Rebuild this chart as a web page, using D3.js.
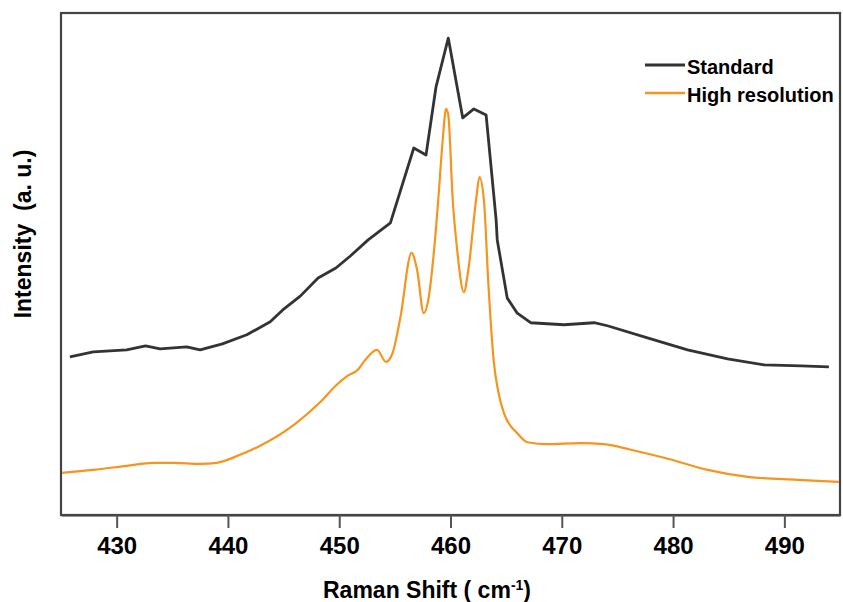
<!DOCTYPE html>
<html>
<head>
<meta charset="utf-8">
<script src="https://cdn.jsdelivr.net/npm/d3@7/dist/d3.min.js"></script>
<style>
  html, body { margin: 0; padding: 0; background: #fff; }
  svg { display: block; }
  text { font-family: "Liberation Sans", Arial, sans-serif; font-weight: bold; fill: #000; }
</style>
</head>
<body>
<svg id="chart" width="843" height="602"></svg>
<script>
// ---- data ----
const xTicks = [430, 440, 450, 460, 470, 480, 490];

const ramanStd = [425.8, 427.9, 430.9, 432.6, 433.9, 436.3, 437.5, 439.5, 441.7, 443.8,
  444.9, 446.5, 448.1, 449.7, 451.0, 452.6, 454.6, 456.7, 457.8, 458.7,
  459.8, 461.1, 462.1, 463.2, 464.1, 464.2, 465.1, 466.0, 467.2, 470.2,
  472.9, 474.1, 477.7, 481.3, 484.9, 488.2, 491.5, 494.0];
const intensityStd = [31.5, 32.5, 32.9, 33.7, 33.1, 33.5, 32.9, 34.1, 35.9, 38.5,
  40.8, 43.6, 47.2, 49.2, 51.6, 54.8, 58.2, 73.1, 71.7, 85.3,
  95.0, 79.1, 80.9, 79.7, 58.8, 54.8, 43.2, 40.2, 38.3, 37.9,
  38.3, 37.7, 35.3, 32.9, 31.1, 29.9, 29.7, 29.5];

const ramanHR = [425.1, 427.9, 430.9, 433.3, 435.1, 437.5, 439.0, 441.1, 442.9, 445.9,
  448.3, 449.8, 450.8, 451.7, 452.2, 453.4, 454.2, 454.8, 455.5, 456.5, 457.0,
  457.6, 458.0, 458.5, 458.9, 459.3, 459.6, 459.8, 460.2, 460.6, 461.2,
  461.6, 462.3, 462.6, 463.0, 463.4, 463.9, 464.3, 464.8, 466.0, 466.9,
  468.7, 471.7, 473.8, 476.2, 479.2, 483.1, 486.7, 491.2, 494.9];
const intensityHR = [8.4, 9.0, 9.8, 10.4, 10.4, 10.2, 10.4, 12.0, 13.8, 17.9,
  22.5, 26.0, 27.8, 29.0, 30.5, 32.9, 30.5, 32.3, 39.4, 52.2, 48.8,
  40.2, 42.8, 52.2, 62.8, 74.7, 80.9, 79.7, 62.8, 52.8, 44.4,
  48.8, 62.8, 67.3, 62.8, 46.2, 30.3, 24.5, 20.3, 16.3, 14.5,
  14.1, 14.3, 14.1, 13.0, 11.4, 9.0, 7.6, 7.0, 6.6];

const seriesNames = ["Standard", "High resolution"];
const seriesColors = ["#333333", "#f7941d"];

// ---- layout ----
const svg = d3.select("#chart");
const L = 61, R = 840, T = 13, B = 515;

const x = d3.scaleLinear().domain([425, 495]).range([L, R]);
const y = d3.scaleLinear().domain([0, 100]).range([B, T]);

svg.append("rect").attr("x", 0).attr("y", 0).attr("width", 843).attr("height", 602).attr("fill", "#fff");

// frame
svg.append("rect")
  .attr("x", L).attr("y", T).attr("width", R - L).attr("height", B - T)
  .attr("fill", "none").attr("stroke", "#444").attr("stroke-width", 2.2);

// x axis
const xAxis = svg.append("g")
  .attr("transform", `translate(0,${B})`)
  .call(d3.axisBottom(x).tickValues(xTicks).tickFormat(d3.format("d"))
    .tickSizeInner(13).tickSizeOuter(0).tickPadding(9));
xAxis.select(".domain").attr("stroke", "#444").attr("stroke-width", 2.2);
xAxis.selectAll(".tick line").attr("stroke", "#555").attr("stroke-width", 2);
xAxis.selectAll(".tick text")
  .style("font-family", "'Liberation Sans', Arial, sans-serif")
  .style("font-weight", "bold").style("font-size", "24px").attr("fill", "#000");

// lines
const lineStd = d3.line()
  .x((d, i) => x(ramanStd[i])).y(d => y(d)).curve(d3.curveLinear);
const lineHR = d3.line()
  .x((d, i) => x(ramanHR[i])).y(d => y(d)).curve(d3.curveMonotoneX);

svg.append("path").datum(intensityHR)
  .attr("d", lineHR).attr("fill", "none")
  .attr("stroke", seriesColors[1]).attr("stroke-width", 2.2)
  .attr("stroke-linejoin", "round");
svg.append("path").datum(intensityStd)
  .attr("d", lineStd).attr("fill", "none")
  .attr("stroke", seriesColors[0]).attr("stroke-width", 2.8)
  .attr("stroke-linejoin", "round");

// legend
const legend = svg.append("g");
seriesNames.forEach((name, i) => {
  const ly = 65 + i * 28;
  legend.append("line").attr("x1", 645).attr("x2", 685).attr("y1", ly).attr("y2", ly)
    .attr("stroke", seriesColors[i]).attr("stroke-width", i === 0 ? 3 : 2.6);
  legend.append("text").attr("x", 687).attr("y", ly + 9)
    .style("font-size", "20px").text(name);
});

// axis titles
const xt = svg.append("text").attr("x", 427).attr("y", 598)
  .attr("text-anchor", "middle").style("font-size", "23px");
xt.append("tspan").text("Raman Shift ( cm");
xt.append("tspan").attr("dy", -8).style("font-size", "14px").text("-1");
xt.append("tspan").attr("dy", 8).text(")");

svg.append("text")
  .attr("transform", "translate(31,234) rotate(-90)")
  .attr("text-anchor", "middle").style("font-size", "23px")
  .attr("xml:space", "preserve")
  .text("Intensity  (a. u.)");
</script>
</body>
</html>
